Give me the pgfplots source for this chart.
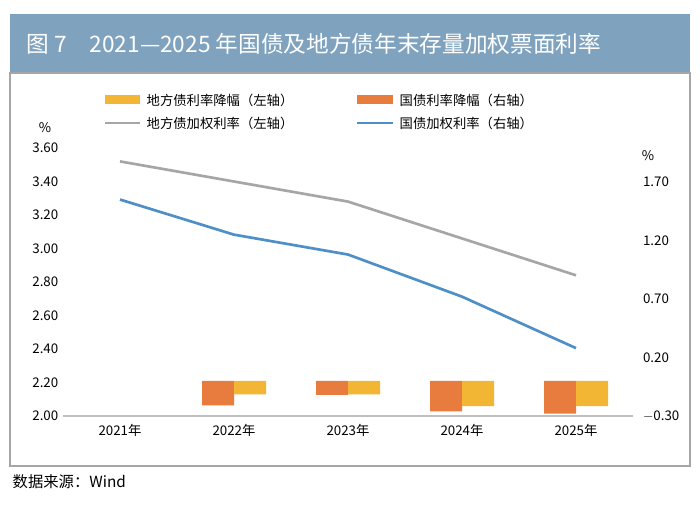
\documentclass[border=0pt]{standalone}
\usepackage{pgfplots}
\pgfplotsset{compat=1.18}
\usepackage{fontspec}
\setmainfont{Noto Sans CJK SC}
\definecolor{hdr}{HTML}{7FA3BF}
\definecolor{yel}{HTML}{F3B634}
\definecolor{ora}{HTML}{E87B3E}
\definecolor{gry}{HTML}{A6A6A6}
\definecolor{blu}{HTML}{4F8FC7}
\begin{document}
\begin{tikzpicture}
\begin{scope}[x=0.75pt,y=-0.75pt]
\path[fill=white] (0,0) rectangle (700,510);
\fill[hdr] (10,14) rectangle (690,73);
\draw[gray!70,line width=0.8pt] (10,73) rectangle (690,466);
\node[anchor=west,text=white,font=\fontsize{17}{20}\selectfont] at (22,44) {图 7\quad 2021—2025 年国债及地方债年末存量加权票面利率};
\node[anchor=west,font=\fontsize{11.5}{14}\selectfont] at (8,482) {数据来源：Wind};
\fill[yel] (105,95) rectangle (140,104);
\node[anchor=west,font=\fontsize{10}{12}\selectfont] at (142,100) {地方债利率降幅（左轴）};
\fill[ora] (357,95) rectangle (393,104);
\node[anchor=west,font=\fontsize{10}{12}\selectfont] at (395,100) {国债利率降幅（右轴）};
\draw[gry,line width=2pt] (105,123) -- (140,123);
\node[anchor=west,font=\fontsize{10}{12}\selectfont] at (142,123) {地方债加权利率（左轴）};
\draw[blu,line width=2pt] (357,123) -- (393,123);
\node[anchor=west,font=\fontsize{10}{12}\selectfont] at (395,123) {国债加权利率（右轴）};
\node[font=\fontsize{10}{12}\selectfont] at (45,128) {\%};
\node[font=\fontsize{10}{12}\selectfont] at (648,156) {\%};
\end{scope}
\begin{axis}[at={(47.25pt,-312pt)},anchor=south west,scale only axis,
  width=427.5pt,height=201pt,
  xmin=-0.5,xmax=4.5,ymin=2.0,ymax=3.6,
  ytick={2.0,2.2,...,3.61},
  yticklabel style={/pgf/number format/.cd,fixed,fixed zerofill,precision=2},
  /pgf/number format/assume math mode=true,
  ticklabel style={font=\fontsize{10}{12}\selectfont},
  axis y line*=left, y axis line style={draw=none}, ytick style={draw=none},
  axis x line*=bottom, x axis line style={draw=gray!50,line width=1pt},
  xtick={0,1,2,3,4}, xticklabels={2021年,2022年,2023年,2024年,2025年},
  xtick style={draw=none},
  extra x ticks={0.5,1.5,2.5,3.5,4.5}, extra x tick labels={},
  extra x tick style={tick style={draw=gray!50,line width=1pt},tick align=outside,major tick length=4pt},
  xticklabel style={yshift=-3pt},
  clip=false]
\addplot[gry,line width=2pt] coordinates {(0,3.52)(1,3.40)(2,3.28)(3,3.06)(4,2.84)};
\end{axis}
\begin{axis}[at={(47.25pt,-312pt)},anchor=south west,scale only axis,
  width=427.5pt,height=201pt,
  xmin=-0.5,xmax=4.5,ymin=-0.3,ymax=1.9906,
  ytick={-0.3,0.2,0.7,1.2,1.7},
  yticklabels={$-$0.30,0.20,0.70,1.20,1.70},
  ticklabel style={font=\fontsize{10}{12}\selectfont},
  axis y line*=right, y axis line style={draw=none}, ytick style={draw=none},
  yticklabel style={xshift=4pt},
  axis x line=none, xtick=\empty]
\addplot[ybar,bar width=24pt,bar shift=-12pt,fill=ora,draw=none] coordinates {(1,-0.21)(2,-0.12)(3,-0.26)(4,-0.28)};
\addplot[ybar,bar width=24pt,bar shift=12pt,fill=yel,draw=none,y filter/.expression={y*1.4316}] coordinates {(1,-0.08)(2,-0.08)(3,-0.15)(4,-0.15)};
\addplot[blu,line width=2pt] coordinates {(0,1.55)(1,1.25)(2,1.08)(3,0.72)(4,0.28)};
\end{axis}
\end{tikzpicture}
\end{document}
